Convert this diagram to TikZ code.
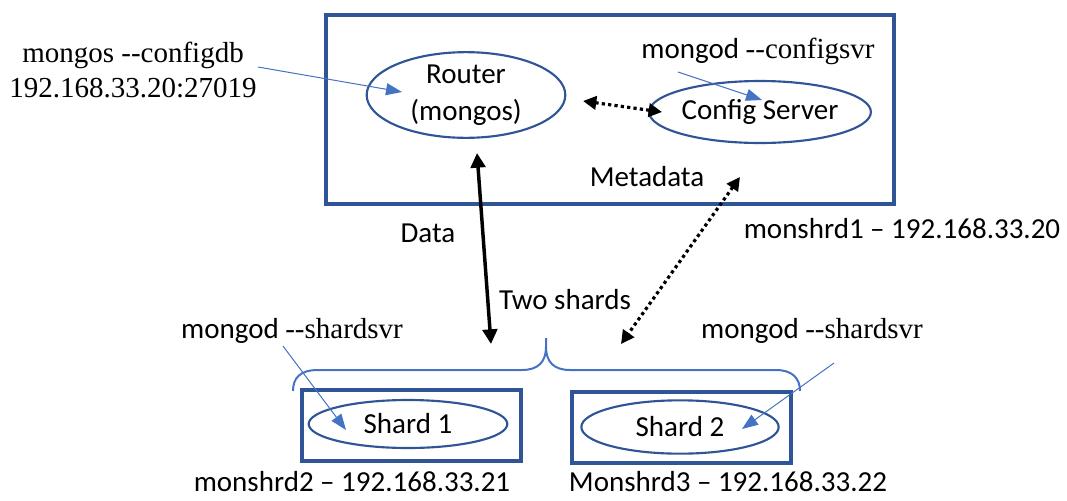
\documentclass[tikz,border=0pt]{standalone}
\usepackage{fontspec}
\setmainfont{Liberation Serif}
\newfontfamily\calib{Carlito}
\usetikzlibrary{shapes.geometric,arrows.meta}
\definecolor{boxblue}{HTML}{2F5597}
\definecolor{arrblue}{HTML}{4472C4}
\tikzset{
  cal/.style={font=\calib\fontsize{21.75}{27.75}\selectfont, inner sep=0pt},
  tms/.style={font=\fontsize{21.75}{26.25}\selectfont, inner sep=0pt},
  bigbox/.style={draw=boxblue, line width=3pt, rectangle, inner sep=0pt},
  ell/.style={draw=boxblue, line width=1.6pt, ellipse, inner sep=0pt, cal},
  bluearr/.style={draw=arrblue, line width=0.75pt, -{Triangle[length=12pt,width=9pt]}, arrblue},
  solidarr/.style={line width=2.6pt, {Triangle[length=11pt,width=11pt]}-{Triangle[length=11pt,width=11pt]}},
  dotarr/.style={line width=2.4pt, dash pattern=on 2.4pt off 2.4pt, {Triangle[length=10pt,width=10pt]}-{Triangle[length=10pt,width=10pt]}},
  bracestyle/.style={draw=arrblue, line width=1.5pt}
}
\begin{document}
\begin{tikzpicture}[x=0.75pt,y=-0.75pt]
\useasboundingbox (0,0) rectangle (1067,500);

% main box
\node[bigbox, minimum width=426pt, minimum height=141.75pt] (mainbox) at (610,109.5) {};
% ellipses in main box
\node[ell, minimum width=149pt, minimum height=64pt, align=center] (router) at (466,95) {Router\\(mongos)};
\node[ell, minimum width=145pt, minimum height=46.5pt] (cfg) at (760,112) {\raisebox{-4pt}{Config Server}};

% labels
\node[tms, align=center] (mongoscfg) at (133,70) {mongos -{}-configdb\\192.168.33.20:27019};
\node[cal] (cfgsvr) at (758,51) {mongod {\rmfamily -{}-configsvr}};
\node[cal] (metadata) at (647,177) {Metadata};
\node[cal] (data) at (428,233) {Data};
\node[cal] (twoshards) at (565,300) {Two shards};
\node[cal] (monshrd1) at (902,229) {monshrd1 – 192.168.33.20};
\node[cal] (shsvrL) at (292,331) {mongod {\rmfamily -{}-shardsvr}};
\node[cal] (shsvrR) at (812,331) {mongod {\rmfamily -{}-shardsvr}};
\node[cal] (monshrd2) at (352,482) {monshrd2 – 192.168.33.21};
\node[cal] (monshrd3) at (728,482) {Monshrd3 – 192.168.33.22};

% shard boxes
\node[bigbox, minimum width=164pt, minimum height=53pt] (box1) at (411.5,425.5) {};
\node[bigbox, minimum width=164pt, minimum height=53pt] (box2) at (681.5,427.5) {};
\node[ell, minimum width=149pt, minimum height=36pt] (shard1) at (408,424) {Shard 1};
\node[ell, minimum width=148pt, minimum height=40pt] (shard2) at (680,427) {Shard 2};

% coordinates for connector ends
\coordinate (cfgdbFrom) at (258,67);
\coordinate (cfgdbTo) at (402,92);
\coordinate (cfgsvrFrom) at (678,72);
\coordinate (cfgsvrTo) at (762,100);
\coordinate (rcA) at (583,101);
\coordinate (rcB) at (662,112);
\coordinate (dataTop) at (477,153);
\coordinate (dataBot) at (491,344);
\coordinate (metaTop) at (740,177);
\coordinate (metaBot) at (621,344);
\coordinate (shLFrom) at (283,346);
\coordinate (shLTo) at (346,430);
\coordinate (shRFrom) at (834,363);
\coordinate (shRTo) at (742,429);

% connectors
\draw[bluearr] (cfgdbFrom) -- (cfgdbTo);
\draw[bluearr] (cfgsvrFrom) -- (cfgsvrTo);
\draw[dotarr] (rcA) -- (rcB);
\draw[solidarr] (dataTop) -- (dataBot);
\draw[dotarr] (metaTop) -- (metaBot);
\draw[bluearr] (shLFrom) -- (shLTo);
\draw[bluearr] (shRFrom) -- (shRTo);

% brace
\draw[bracestyle] (293,391) .. controls (293,378) and (300,370) .. (318,370)
  -- (522,370) .. controls (538,370) and (546,362) .. (546,347) -- (546,338);
\draw[bracestyle] (546,347) .. controls (546,362) and (554,370) .. (570,370)
  -- (776,370) .. controls (792,370) and (800,378) .. (800,391);
\end{tikzpicture}
\end{document}
